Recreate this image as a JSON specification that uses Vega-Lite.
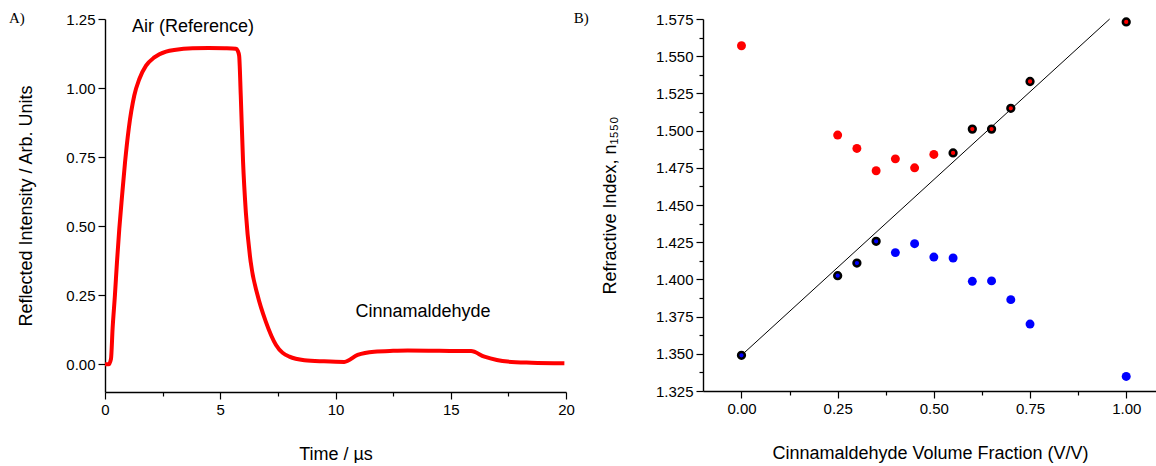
{
  "$schema": "https://vega.github.io/schema/vega-lite/v6.json",
  "padding": {"left": 8, "top": 10, "right": 0, "bottom": 0},
  "autosize": {"type": "pad"},
  "background": "white",
  "spacing": 137,
  "bounds": "flush",
  "config": {
    "view": {"stroke": null},
    "font": "Liberation Sans",
    "axis": {
      "grid": false,
      "domainColor": "black",
      "domainWidth": 1.4,
      "tickColor": "black",
      "tickWidth": 1.2,
      "labelColor": "black",
      "labelFont": "Liberation Sans",
      "labelFontSize": 15,
      "titleFont": "Liberation Sans",
      "titleFontSize": 18,
      "titleFontWeight": "normal",
      "titleColor": "black",
      "labelPadding": 3,
      "labelFlush": false,
      "labelOverlap": false
    }
  },
  "hconcat": [
    {
      "width": 461,
      "height": 373,
      "layer": [
        {
          "data": {"values": [
            {"t": 0, "v": 0.0}, {"t": 0.16, "v": 0.0}, {"t": 0.26, "v": 0.02},
            {"t": 0.33, "v": 0.13}, {"t": 0.43, "v": 0.25}, {"t": 0.52, "v": 0.371},
            {"t": 0.62, "v": 0.49}, {"t": 0.74, "v": 0.61}, {"t": 0.87, "v": 0.732},
            {"t": 1.03, "v": 0.853}, {"t": 1.27, "v": 0.973}, {"t": 1.49, "v": 1.033},
            {"t": 1.78, "v": 1.081}, {"t": 2.14, "v": 1.111}, {"t": 2.65, "v": 1.132},
            {"t": 3.08, "v": 1.139}, {"t": 3.8, "v": 1.144}, {"t": 4.5, "v": 1.145},
            {"t": 5.2, "v": 1.144}, {"t": 5.68, "v": 1.142}, {"t": 5.76, "v": 1.135},
            {"t": 5.82, "v": 1.117}, {"t": 5.89, "v": 0.973}, {"t": 5.99, "v": 0.732},
            {"t": 6.11, "v": 0.551}, {"t": 6.32, "v": 0.371}, {"t": 6.62, "v": 0.25},
            {"t": 6.98, "v": 0.154}, {"t": 7.42, "v": 0.07}, {"t": 8.0, "v": 0.028},
            {"t": 8.65, "v": 0.015}, {"t": 9.5, "v": 0.011}, {"t": 10.38, "v": 0.009},
            {"t": 10.96, "v": 0.034}, {"t": 11.68, "v": 0.046}, {"t": 12.5, "v": 0.049},
            {"t": 13.13, "v": 0.05}, {"t": 14.5, "v": 0.049}, {"t": 15.88, "v": 0.048},
            {"t": 16.46, "v": 0.028}, {"t": 17.0, "v": 0.016}, {"t": 17.47, "v": 0.01},
            {"t": 18.5, "v": 0.006}, {"t": 19.93, "v": 0.004}
          ]},
          "mark": {"type": "line", "color": "#ff0000", "strokeWidth": 4, "interpolate": "monotone"},
          "encoding": {
            "x": {
              "field": "t", "type": "quantitative",
              "scale": {"domain": [0, 20], "nice": false, "zero": false},
              "axis": {
                "title": "Time / µs",
                "titlePadding": 28,
                "labelOverlap": false,
                "values": [0, 2.5, 5, 7.5, 10, 12.5, 15, 17.5, 20],
                "format": "d",
                "labelExpr": "datum.value % 5 === 0 ? datum.label : ''",
                "tickSize": {"condition": {"test": "datum.value % 5 === 0", "value": 7}, "value": 4}
              }
            },
            "y": {
              "field": "v", "type": "quantitative",
              "scale": {"domain": [-0.1, 1.25], "nice": false, "zero": false},
              "axis": {
                "title": "Reflected Intensity / Arb. Units",
                "titlePadding": 30,
                "labelOverlap": false,
                "values": [0, 0.125, 0.25, 0.375, 0.5, 0.625, 0.75, 0.875, 1.0, 1.125, 1.25],
                "format": ".2f",
                "labelExpr": "abs(round(datum.value*4) - datum.value*4) < 1e-6 ? datum.label : ''",
                "tickSize": {"condition": {"test": "abs(round(datum.value*4) - datum.value*4) < 1e-6", "value": 7}, "value": 4}
              }
            }
          }
        },
        {
          "data": {"values": [
            {"t": 3.82, "v": 1.221, "label": "Air (Reference)"},
            {"t": 13.8, "v": 0.191, "label": "Cinnamaldehyde"}
          ]},
          "mark": {"type": "text", "font": "Liberation Sans", "fontSize": 18, "color": "black", "align": "center", "baseline": "middle"},
          "encoding": {
            "x": {"field": "t", "type": "quantitative"},
            "y": {"field": "v", "type": "quantitative"},
            "text": {"field": "label"}
          }
        },
        {
          "data": {"values": [{"t": -4.17, "v": 1.255, "label": "A)"}]},
          "mark": {"type": "text", "font": "Liberation Serif", "fontSize": 15, "color": "black", "align": "left", "baseline": "middle"},
          "encoding": {
            "x": {"field": "t", "type": "quantitative"},
            "y": {"field": "v", "type": "quantitative"},
            "text": {"field": "label"}
          }
        }
      ]
    },
    {
      "width": 454,
      "height": 372,
      "resolve": {"axis": {"y": "independent"}},
      "layer": [
        {
          "data": {"values": [
            {"frac": 0, "n": 1.349},
            {"frac": 0.957, "n": 1.575}
          ]},
          "mark": {"type": "line", "color": "black", "strokeWidth": 1},
          "encoding": {
            "x": {
              "field": "frac", "type": "quantitative",
              "scale": {"domain": [-0.1, 1.08], "nice": false, "zero": false},
              "axis": {
                "title": "Cinnamaldehyde Volume Fraction (V/V)",
                "titlePadding": 28,
                "labelOverlap": false,
                "values": [0, 0.125, 0.25, 0.375, 0.5, 0.625, 0.75, 0.875, 1.0],
                "format": ".2f",
                "labelExpr": "abs(round(datum.value*4) - datum.value*4) < 1e-6 ? datum.label : ''",
                "tickSize": {"condition": {"test": "abs(round(datum.value*4) - datum.value*4) < 1e-6", "value": 7}, "value": 4}
              }
            },
            "y": {
              "field": "n", "type": "quantitative",
              "scale": {"domain": [1.325, 1.575], "nice": false, "zero": false},
              "axis": {
                "orient": "left",
                "title": "Refractive Index, n₁₅₅₀",
                "titlePadding": 36,
                "labelOverlap": false,
                "values": [1.325, 1.35, 1.375, 1.4, 1.425, 1.45, 1.475, 1.5, 1.525, 1.55, 1.575],
                "format": ".3f",
                "tickSize": 7
              }
            }
          }
        },
        {
          "data": {"name": "pts", "values": [
            {"frac": 0, "n": 1.557, "series": "high", "outlined": false},
            {"frac": 0.25, "n": 1.497, "series": "high", "outlined": false},
            {"frac": 0.30, "n": 1.488, "series": "high", "outlined": false},
            {"frac": 0.35, "n": 1.473, "series": "high", "outlined": false},
            {"frac": 0.40, "n": 1.481, "series": "high", "outlined": false},
            {"frac": 0.45, "n": 1.475, "series": "high", "outlined": false},
            {"frac": 0.50, "n": 1.484, "series": "high", "outlined": false},
            {"frac": 0.55, "n": 1.485, "series": "high", "outlined": true},
            {"frac": 0.60, "n": 1.501, "series": "high", "outlined": true},
            {"frac": 0.65, "n": 1.501, "series": "high", "outlined": true},
            {"frac": 0.70, "n": 1.515, "series": "high", "outlined": true},
            {"frac": 0.75, "n": 1.533, "series": "high", "outlined": true},
            {"frac": 1.00, "n": 1.573, "series": "high", "outlined": true},
            {"frac": 0, "n": 1.349, "series": "low", "outlined": true},
            {"frac": 0.25, "n": 1.4025, "series": "low", "outlined": true},
            {"frac": 0.30, "n": 1.411, "series": "low", "outlined": true},
            {"frac": 0.35, "n": 1.4256, "series": "low", "outlined": true},
            {"frac": 0.40, "n": 1.418, "series": "low", "outlined": false},
            {"frac": 0.45, "n": 1.424, "series": "low", "outlined": false},
            {"frac": 0.50, "n": 1.415, "series": "low", "outlined": false},
            {"frac": 0.55, "n": 1.4144, "series": "low", "outlined": false},
            {"frac": 0.60, "n": 1.3987, "series": "low", "outlined": false},
            {"frac": 0.65, "n": 1.399, "series": "low", "outlined": false},
            {"frac": 0.70, "n": 1.3864, "series": "low", "outlined": false},
            {"frac": 0.75, "n": 1.370, "series": "low", "outlined": false},
            {"frac": 1.00, "n": 1.3348, "series": "low", "outlined": false}
          ]},
          "transform": [{"filter": "!datum.outlined"}],
          "mark": {"type": "circle", "size": 80, "opacity": 1},
          "encoding": {
            "x": {"field": "frac", "type": "quantitative"},
            "y": {
              "field": "n", "type": "quantitative",
              "axis": {
                "orient": "left",
                "title": null,
                "labels": false,
                "domain": false,
                "values": [1.3375, 1.3625, 1.3875, 1.4125, 1.4375, 1.4625, 1.4875, 1.5125, 1.5375, 1.5625],
                "tickSize": 4
              }
            },
            "color": {"field": "series", "type": "nominal", "scale": {"domain": ["high", "low"], "range": ["#ff0000", "#0000ff"]}, "legend": null}
          }
        },
        {
          "data": {"name": "pts"},
          "transform": [{"filter": "datum.outlined"}],
          "mark": {"type": "point", "shape": "circle", "filled": true, "size": 46, "opacity": 1, "stroke": "black", "strokeWidth": 2.5, "strokeOpacity": 1},
          "encoding": {
            "x": {"field": "frac", "type": "quantitative"},
            "y": {"field": "n", "type": "quantitative", "axis": null},
            "fill": {"field": "series", "type": "nominal", "scale": {"domain": ["high", "low"], "range": ["#ff0000", "#0000ff"]}, "legend": null}
          }
        },
        {
          "data": {"values": [{"frac": -0.436, "n": 1.576, "label": "B)"}]},
          "mark": {"type": "text", "font": "Liberation Serif", "fontSize": 15, "color": "black", "align": "left", "baseline": "middle"},
          "encoding": {
            "x": {"field": "frac", "type": "quantitative"},
            "y": {"field": "n", "type": "quantitative", "axis": null},
            "text": {"field": "label"}
          }
        }
      ]
    }
  ]
}
